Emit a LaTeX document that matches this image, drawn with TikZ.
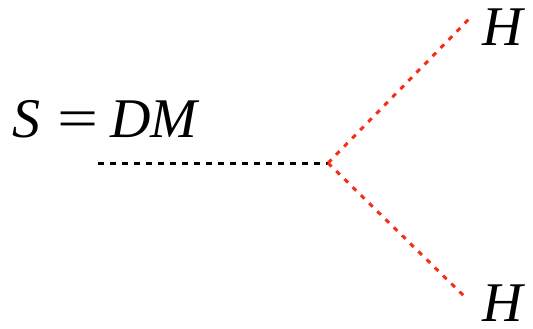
\documentclass[tikz,border=0pt]{standalone}
\usepackage{fontspec}
\setmainfont{Liberation Serif}
\definecolor{hred}{RGB}{250,45,20}
\begin{document}
\begin{tikzpicture}[x=1pt,y=-1pt,
  lbl/.style={font=\fontsize{56}{64}\selectfont, inner sep=0pt, anchor=base west, text depth=0pt},
  scalar/.style={line width=3pt, dash pattern=on 6pt off 6pt},
  higgs/.style={line width=3pt, hred, dash pattern=on 5pt off 6.5pt}]
\useasboundingbox (0,0) rectangle (533,329);
\node[lbl] (s) at (12,137) {\itshape S\/\hspace{0.3em}\upshape\scalebox{1.3}[1]{=}\hspace{0.22em}\itshape DM};
\coordinate (a) at (98,163);
\coordinate (v) at (328,163);
\coordinate (h1) at (469,19);
\coordinate (h2) at (466,298);
\node[lbl] (t1) at (482,46) {\itshape H};
\node[lbl] (t2) at (482,321) {\itshape H};
\draw[scalar] (a) -- (v);
\draw[higgs] (v) -- (h1);
\draw[higgs] (v) -- (h2);
\end{tikzpicture}
\end{document}
